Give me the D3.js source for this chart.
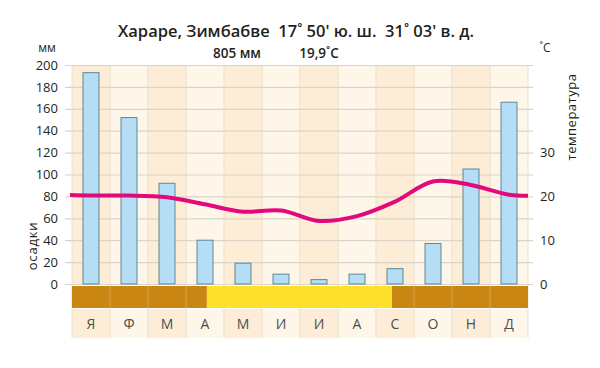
<!DOCTYPE html>
<html lang="ru">
<head>
<meta charset="UTF-8">
<script src="https://cdn.jsdelivr.net/npm/d3@7"></script>
<style>
  body { margin: 0; background: #fff; }
  text { font-family: "Open Sans", "Noto Sans", sans-serif; fill: #231f20; white-space: pre; }
</style>
</head>
<body>
<div id="container"></div>
<script>
// monthly data
const months = ["Я", "Ф", "М", "А", "М", "И", "И", "А", "С", "О", "Н", "Д"];
const precip = [193, 152, 92, 40, 19, 9, 4, 9, 14, 37, 105, 166];
const temp = [20.2, 20.2, 19.8, 18.2, 16.5, 16.8, 14.4, 15.5, 18.8, 23.4, 22.6, 20.4];
const precipTicks = [0, 20, 40, 60, 80, 100, 120, 140, 160, 180, 200];
const tempTicks = [0, 10, 20, 30];
// wet / dry seasons in month units
const seasons = [
  { from: 0, to: 3.55, wet: true },
  { from: 3.55, to: 8.42, wet: false },
  { from: 8.42, to: 12, wet: true }
];

const width = 600, height = 368;
const svg = d3.create("svg").attr("width", width).attr("height", height);

const x = d3.scaleLinear().domain([0, 12]).range([72, 528]);
const y = d3.scaleLinear().domain([0, 200]).range([284, 65]);
const yT = d3.scaleLinear().domain([0, 50]).range([284, 65]);
const colW = x(1) - x(0);
const shade = i => i % 2 === 0 ? "#fdedd7" : "#fef6e9";

// column backgrounds
svg.append("g").selectAll("rect")
  .data(months)
  .join("rect")
  .attr("x", (d, i) => x(i))
  .attr("y", y(200))
  .attr("width", colW)
  .attr("height", y(0) - y(200))
  .attr("fill", (d, i) => shade(i));

// month label row
svg.append("g").selectAll("rect")
  .data(months)
  .join("rect")
  .attr("x", (d, i) => x(i))
  .attr("y", 309)
  .attr("width", colW)
  .attr("height", 29)
  .attr("fill", (d, i) => shade(i));

// vertical separators
svg.append("g").selectAll("line")
  .data(d3.range(13))
  .join("line")
  .attr("x1", d => x(d)).attr("x2", d => x(d))
  .attr("y1", y(200)).attr("y2", 338)
  .attr("stroke", "#ece0cb")
  .attr("stroke-width", 1);

// horizontal grid + left axis
const leftAxis = svg.append("g")
  .attr("transform", "translate(65,0)")
  .call(d3.axisLeft(y).tickValues(precipTicks).tickSize(-468).tickPadding(7));
leftAxis.select(".domain").remove();
leftAxis.selectAll("line").attr("stroke", "#dad4c8").attr("stroke-width", 1.2);
leftAxis.selectAll("text").attr("font-size", 13).attr("fill", "#231f20")
  .attr("font-family", "Open Sans, Noto Sans, sans-serif");

// right axis
const rightAxis = svg.append("g")
  .attr("transform", "translate(533,0)")
  .call(d3.axisRight(yT).tickValues(tempTicks).tickSize(0).tickPadding(7));
rightAxis.select(".domain").remove();
rightAxis.selectAll("text").attr("font-size", 13).attr("fill", "#231f20")
  .attr("font-family", "Open Sans, Noto Sans, sans-serif");

// precipitation bars
svg.append("g").selectAll("rect")
  .data(precip)
  .join("rect")
  .attr("x", (d, i) => x(i + 0.5) - 8)
  .attr("y", d => y(d))
  .attr("width", 16)
  .attr("height", d => y(0) - y(d))
  .attr("fill", "#b5ddf6")
  .attr("stroke", "#5f8795")
  .attr("stroke-width", 1);

// temperature line, wrapped at ends and clipped to the plot
svg.append("clipPath").attr("id", "plotclip")
  .append("rect").attr("x", x(0) - 2).attr("y", 0).attr("width", x(12) - x(0) + 2).attr("height", height);
const tempPts = [[-0.5, temp[11]], ...temp.map((t, i) => [i + 0.5, t]), [12.5, temp[0]]];
svg.append("path")
  .datum(tempPts)
  .attr("clip-path", "url(#plotclip)")
  .attr("fill", "none")
  .attr("stroke", "#e2097c")
  .attr("stroke-width", 4)
  .attr("d", d3.line().x(d => x(d[0])).y(d => yT(d[1])).curve(d3.curveCatmullRom));

// season band
svg.append("g").selectAll("rect")
  .data(seasons)
  .join("rect")
  .attr("x", d => x(d.from))
  .attr("y", 286)
  .attr("width", d => x(d.to) - x(d.from))
  .attr("height", 22)
  .attr("fill", d => d.wet ? "#c98613" : "#fde02b");
svg.append("g").selectAll("line")
  .data(d3.range(1, 12).filter(i => seasons.some(s => s.wet && i > s.from && i < s.to)))
  .join("line")
  .attr("x1", d => x(d)).attr("x2", d => x(d))
  .attr("y1", 286).attr("y2", 308)
  .attr("stroke", "#dba14a").attr("stroke-width", 1);

// month labels
svg.append("g").selectAll("text")
  .data(months)
  .join("text")
  .attr("x", (d, i) => x(i + 0.5))
  .attr("y", 329)
  .attr("text-anchor", "middle")
  .attr("font-size", 14)
  .style("fill", "#4d4d4d")
  .text(d => d);

// titles and units
svg.append("text").attr("x", 296).attr("y", 37).attr("text-anchor", "middle")
  .attr("font-size", 16.5).attr("font-weight", 600)
  .text("Хараре, Зимбабве  17˚ 50' ю. ш.  31˚ 03' в. д.");
svg.append("text").attr("x", 237).attr("y", 58).attr("text-anchor", "middle")
  .attr("font-size", 13.5).attr("font-weight", 600).text("805 мм");
svg.append("text").attr("x", 319).attr("y", 58).attr("text-anchor", "middle")
  .attr("font-size", 13.5).attr("font-weight", 600).text("19,9˚C");
svg.append("text").attr("x", 47).attr("y", 52).attr("text-anchor", "middle")
  .attr("font-size", 12).text("мм");
svg.append("text").attr("x", 545).attr("y", 52).attr("text-anchor", "middle")
  .attr("font-size", 12).text("˚C");
svg.append("text").attr("transform", "translate(37,246) rotate(-90)")
  .attr("text-anchor", "middle").attr("font-size", 13).attr("letter-spacing", 0.8).text("осадки");
svg.append("text").attr("transform", "translate(576,117) rotate(-90)")
  .attr("text-anchor", "middle").attr("font-size", 13).attr("letter-spacing", 0.5).text("температура");

document.getElementById("container").appendChild(svg.node());
</script>
</body>
</html>
